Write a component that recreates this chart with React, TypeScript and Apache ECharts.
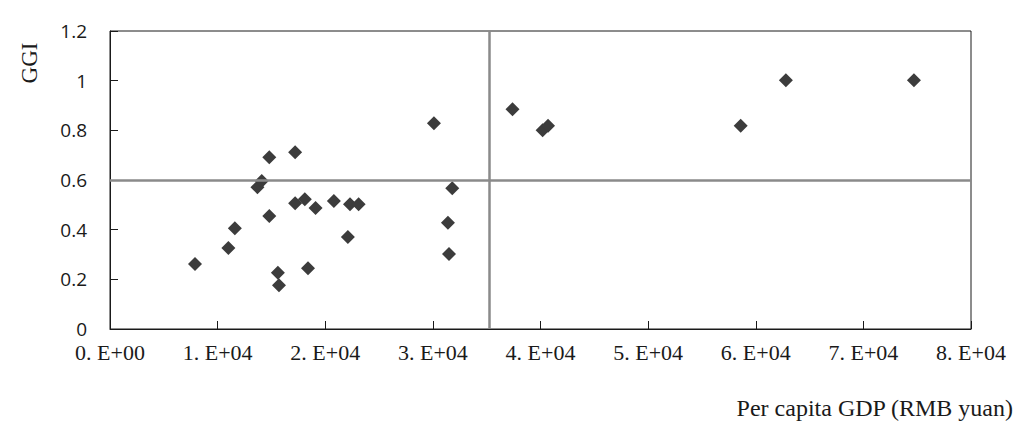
import React, { useEffect, useRef } from "react";
import * as echarts from "echarts";

// Per capita GDP (RMB yuan) and GGI for each region
const gdp: number[] = [
  7900, 11000, 11600, 13700, 14100, 14800, 14800, 15600, 15700, 17200,
  17200, 18100, 18400, 19100, 20800, 22100, 22300, 23100, 30100, 31400,
  31500, 31800, 37400, 40200, 40700, 58600, 62800, 74700,
];
const ggi: number[] = [
  0.262, 0.326, 0.406, 0.571, 0.596, 0.692, 0.455, 0.227, 0.176, 0.712,
  0.506, 0.522, 0.245, 0.487, 0.515, 0.370, 0.502, 0.502, 0.829, 0.428,
  0.302, 0.567, 0.885, 0.800, 0.818, 0.818, 1.002, 1.002,
];
const xTickValues: number[] = [0, 10000, 20000, 30000, 40000, 50000, 60000, 70000, 80000];
const xTickLabels: string[] = ["0. E+00", "1. E+04", "2. E+04", "3. E+04", "4. E+04", "5. E+04", "6. E+04", "7. E+04", "8. E+04"];
const gdpThreshold = 35200;
const ggiThreshold = 0.6;
const xTitle = "Per capita GDP (RMB yuan)";
const yTitle = "GGI";

export default function App() {
  const ref = useRef<HTMLDivElement>(null);
  useEffect(() => {
    if (!ref.current) return;
    const chart = echarts.init(ref.current, undefined, { renderer: "svg" });
    const points = gdp.map((g, i) => [g, ggi[i]]);
    chart.setOption({
      animation: false,
      backgroundColor: "#ffffff",
      grid: {
        left: 110,
        right: 53,
        top: 31,
        bottom: 100,
        show: true,
        borderColor: "#1a1a1a",
        borderWidth: 1,
      },
      xAxis: {
        type: "value",
        min: 0,
        max: 80000,
        interval: 10000,
        axisLine: { show: true, lineStyle: { color: "#1a1a1a", width: 1 } },
        axisTick: { show: true, inside: true, length: 8, lineStyle: { color: "#1a1a1a" } },
        splitLine: { show: false },
        axisLabel: {
          margin: 12,
          fontFamily: "Liberation Serif",
          fontSize: 22,
          color: "#1a1a1a",
          formatter: (v: number) => {
            const i = xTickValues.indexOf(v);
            return i >= 0 ? xTickLabels[i] : "";
          },
        },
      },
      yAxis: {
        type: "value",
        min: 0,
        max: 1.2,
        interval: 0.2,
        axisLine: { show: true, lineStyle: { color: "#1a1a1a", width: 1 } },
        axisTick: { show: true, inside: true, length: 8, lineStyle: { color: "#1a1a1a" } },
        splitLine: { show: false },
        axisLabel: {
          margin: 23,
          fontFamily: "Open Sans",
          fontSize: 19,
          color: "#1a1a1a",
          formatter: (v: number) => String(Math.round(v * 10) / 10),
        },
      },
      graphic: [
        {
          type: "text",
          x: 1013,
          y: 408,
          style: {
            text: xTitle,
            fontFamily: "Liberation Serif",
            fontSize: 24,
            fill: "#1a1a1a",
            textAlign: "right",
            textVerticalAlign: "middle",
          },
        },
        {
          type: "text",
          x: 29,
          y: 63,
          rotation: Math.PI / 2,
          style: {
            text: yTitle,
            fontFamily: "Liberation Serif",
            fontSize: 23,
            fill: "#1a1a1a",
            textAlign: "center",
            textVerticalAlign: "middle",
          },
        },
      ],
      series: [
        {
          type: "scatter",
          data: points,
          symbol: "diamond",
          symbolSize: 14,
          itemStyle: { color: "#3c3c3c", opacity: 1 },
          z: 3,
          markLine: {
            silent: true,
            symbol: "none",
            label: { show: false },
            lineStyle: { color: "#8a8a8a", width: 2.5, type: "solid" },
            data: [{ yAxis: ggiThreshold }, { xAxis: gdpThreshold }],
          },
        },
      ],
    });
    return () => chart.dispose();
  }, []);
  return <div ref={ref} style={{ width: 1024, height: 429, position: "absolute", left: 0, top: 0 }} />;
}
